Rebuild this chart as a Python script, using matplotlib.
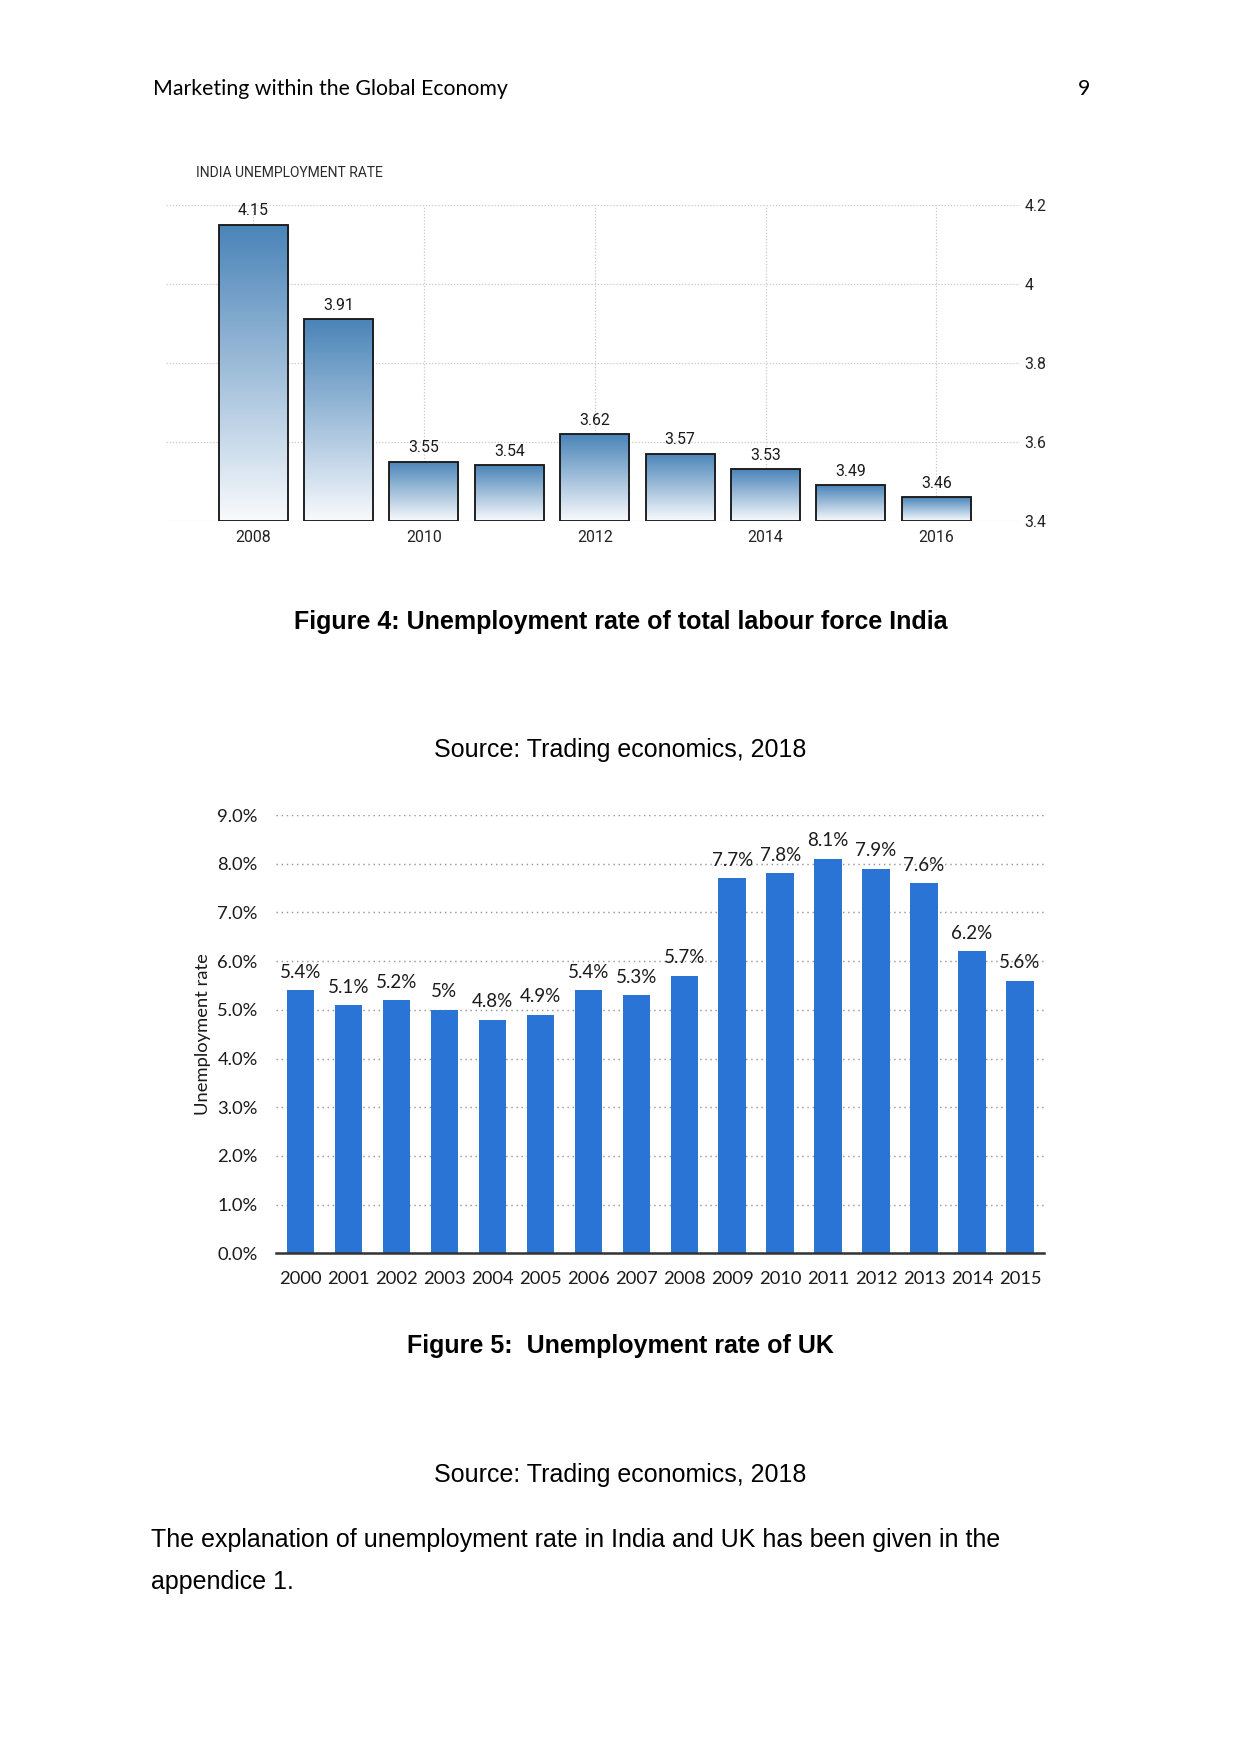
import matplotlib.pyplot as plt
import numpy as np
from matplotlib.colors import LinearSegmentedColormap

# India unemployment rate (Trading economics)
india_years = [2008, 2009, 2010, 2011, 2012, 2013, 2014, 2015, 2016]
india_rates = [4.15, 3.91, 3.55, 3.54, 3.62, 3.57, 3.53, 3.49, 3.46]
india_xticks = [2008, 2010, 2012, 2014, 2016]
india_yticks = [3.4, 3.6, 3.8, 4.0, 4.2]

# UK unemployment rate
uk_years = [2000, 2001, 2002, 2003, 2004, 2005, 2006, 2007,
            2008, 2009, 2010, 2011, 2012, 2013, 2014, 2015]
uk_rates = [5.4, 5.1, 5.2, 5.0, 4.8, 4.9, 5.4, 5.3,
            5.7, 7.7, 7.8, 8.1, 7.9, 7.6, 6.2, 5.6]
uk_yticks = [0, 1, 2, 3, 4, 5, 6, 7, 8, 9]

W, H = 1241, 1754
fig = plt.figure(figsize=(W / 150, H / 150), dpi=150)

narrow = ['Roboto', 'DejaVu Sans']
arial = ['Liberation Sans', 'DejaVu Sans']
calibri = ['Lato', 'DejaVu Sans']

# page header
fig.text(153 / W, 1 - 89 / H, 'Marketing within the Global Economy', family=calibri,
         fontsize=10.2, ha='left', va='center')
fig.text(1090 / W, 1 - 89 / H, '9', family=calibri, fontsize=10.2, ha='right', va='center')

# ---- figure 4: India ----
ax1 = fig.add_axes([166 / W, 1 - 520.7 / H, (1020 - 166) / W, (520.7 - 205) / H])
base = india_yticks[0]
heights = np.array(india_rates) - base
bars = ax1.bar(india_years, heights, bottom=base, width=0.81, facecolor='none',
               edgecolor='#1a1a1a', linewidth=0.9, zorder=3)
cmap = LinearSegmentedColormap.from_list('tegrad', ['#f8fafd', '#4a84b8'])
grad = np.linspace(0, 1, 256).reshape(-1, 1)
for b in bars:
    x0, y0 = b.get_x(), b.get_y()
    im = ax1.imshow(grad, extent=[x0, x0 + b.get_width(), y0, y0 + b.get_height()],
                    origin='lower', aspect='auto', cmap=cmap, zorder=2)
    im.set_clip_path(b)
for yr, v in zip(india_years, india_rates):
    ax1.annotate('{:g}'.format(v), (yr, v), xytext=(0, 3), textcoords='offset points',
                 ha='center', va='bottom', family=narrow, fontsize=7.6, color='#1a1a1a')
ax1.set_xlim(2006.98, 2016.98)
ax1.set_ylim(3.4, 4.2)
ax1.set_aspect('auto')
ax1.set_xticks(india_xticks)
ax1.set_xticklabels([str(t) for t in india_xticks], family=narrow, fontsize=7.6, color='#222222')
ax1.set_yticks(india_yticks)
ax1.set_yticklabels(['{:g}'.format(t) for t in india_yticks], family=narrow, fontsize=7.6,
                    color='#222222')
ax1.yaxis.tick_right()
ax1.tick_params(length=0)
ax1.tick_params(axis='x', pad=4.5)
ax1.tick_params(axis='y', pad=2)
ax1.grid(True, color='#c8c8c8', linestyle=(0, (1, 1.5)), linewidth=0.6, zorder=0)
ax1.set_axisbelow(True)
for s in ax1.spines.values():
    s.set_visible(False)
fig.text(196 / W, 1 - 173 / H, 'INDIA UNEMPLOYMENT RATE', family=narrow, fontsize=6.7,
         color='#2a2a2a', ha='left', va='center')

fig.text(0.5, 1 - 622 / H, 'Figure 4: Unemployment rate of total labour force India',
         family=arial, fontsize=12, fontweight='bold', ha='center', va='center')
fig.text(0.5, 1 - 750 / H, 'Source: Trading economics, 2018', family=arial, fontsize=12,
         ha='center', va='center')

# ---- figure 5: UK ----
ax2 = fig.add_axes([276.4 / W, 1 - 1253.3 / H, (1044 - 276.4) / W, (1253.3 - 815) / H])
ax2.bar(uk_years, uk_rates, width=0.57, color='#2a74d6', zorder=2)
for yr, v in zip(uk_years, uk_rates):
    ax2.annotate('{:g}%'.format(v), (yr, v), xytext=(0, 4.5), textcoords='offset points',
                 ha='center', va='bottom', family=calibri, fontsize=9, color='#1a1a1a')
ax2.set_xlim(1999.5, 2015.5)
ax2.set_ylim(0, 9)
ax2.set_xticks(uk_years)
ax2.set_xticklabels([str(y) for y in uk_years], family=calibri, fontsize=8.8, color='#1a1a1a')
ax2.set_yticks(uk_yticks)
ax2.set_yticklabels(['{:.1f}%'.format(t) for t in uk_yticks], family=calibri, fontsize=8.8,
                    color='#1a1a1a')
ax2.tick_params(length=0)
ax2.tick_params(axis='x', pad=8.5)
ax2.tick_params(axis='y', pad=9)
ax2.set_ylabel('Unemployment rate', family=calibri, fontsize=8.8, color='#1a1a1a', labelpad=3)
ax2.grid(True, axis='y', color='#999999', linestyle=(0, (1, 2.5)), linewidth=0.7, zorder=0)
ax2.set_axisbelow(True)
for name, s in ax2.spines.items():
    s.set_visible(name == 'bottom')
ax2.spines['bottom'].set_color('#333333')
ax2.spines['bottom'].set_linewidth(1.2)
ax2.spines['bottom'].set_zorder(3)

fig.text(0.5, 1 - 1346 / H, 'Figure 5:  Unemployment rate of UK', family=arial, fontsize=12,
         fontweight='bold', ha='center', va='center')
fig.text(0.5, 1 - 1475 / H, 'Source: Trading economics, 2018', family=arial, fontsize=12,
         ha='center', va='center')

fig.text(151 / W, 1 - 1540 / H,
         'The explanation of unemployment rate in India and UK has been given in the',
         family=arial, fontsize=12, ha='left', va='center')
fig.text(151 / W, 1 - 1582 / H, 'appendice 1.', family=arial, fontsize=12, ha='left',
         va='center')

fig.savefig('out.png', dpi=150, facecolor='white')
